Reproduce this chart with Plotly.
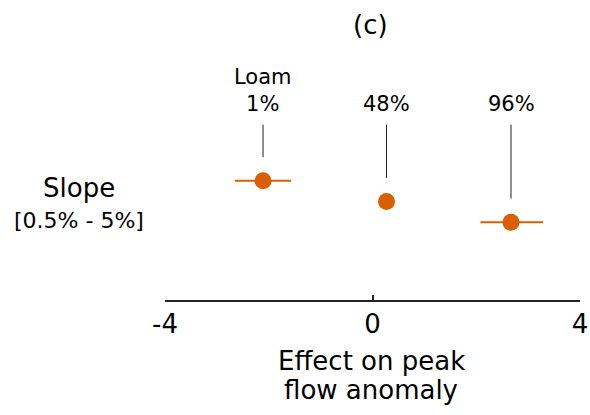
import plotly.graph_objects as go

# ---- data ----
quantile_labels = ["1%", "48%", "96%"]
group_name = "Loam"
effect = [-2.11, 0.27, 2.67]
ci_low = [-2.65, 0.14, 2.08]
ci_high = [-1.57, 0.40, 3.29]
x_ticks = [-4, 0, 4]
row_label = "Slope"
row_range = "[0.5% - 5%]"
panel = "(c)"
x_title_lines = ["Effect on peak", "flow anomaly"]

ORANGE = "#D95F02"
FONT = "DejaVu Sans"
W, H = 590, 415
L, R, T, B = 165, 10, 103, 115
dodge = 0.21
n = len(effect)
ypos = [(((n - 1) / 2) - i) * dodge for i in range(n)]


def px(xp):
    return (xp - L) / (W - L - R)


def py(yp):
    return (H - B - yp) / (H - T - B)


def label(fig, x, y, text, size):
    fig.add_annotation(x=px(x), y=py(y), xref="paper", yref="paper", text=text,
                       showarrow=False, xanchor="center", yanchor="middle",
                       font=dict(size=size, color="black", family=FONT))


fig = go.Figure()
fig.add_trace(go.Scatter(
    x=effect, y=ypos, mode="markers",
    marker=dict(size=17, color=ORANGE),
    error_x=dict(type="data", symmetric=False,
                 array=[h - e for h, e in zip(ci_high, effect)],
                 arrayminus=[e - l for e, l in zip(effect, ci_low)],
                 color=ORANGE, thickness=2, width=0),
    showlegend=False, hoverinfo="skip"))

line_top = 0.78
for i, (xv, yv, lab) in enumerate(zip(effect, ypos, quantile_labels)):
    fig.add_shape(type="line", xref="x", yref="y", x0=xv, x1=xv,
                  y0=yv + 0.24, y1=line_top,
                  line=dict(color="#222222", width=1))
    txt = (group_name + "<br>" + lab) if i == 0 else lab
    fig.add_annotation(x=xv, y=0.85, xref="x", yref="y", text=txt,
                       showarrow=False, xanchor="center", yanchor="bottom",
                       font=dict(size=21, color="black", family=FONT))

label(fig, 370, 25, panel, 26)
label(fig, 79, 188, row_label, 26)
label(fig, 79, 220, row_range, 22)
for t, yc in zip(x_title_lines, [361, 390]):
    label(fig, 371, yc, t, 26)

fig.update_layout(
    width=W, height=H,
    margin=dict(l=L, r=R, t=T, b=B, autoexpand=False),
    paper_bgcolor="white", plot_bgcolor="white",
    font=dict(family=FONT, color="black"),
    xaxis=dict(range=[-4, 4], tickvals=x_ticks, ticktext=[str(v) for v in x_ticks],
               showline=True, linecolor="#222222", linewidth=2,
               ticks="inside", ticklen=5, tickwidth=2, tickcolor="#222222",
               showgrid=False, zeroline=False, tickfont=dict(size=26),
               automargin=False),
    yaxis=dict(range=[-1, 1], visible=False),
)
fig.write_html("out.html")
